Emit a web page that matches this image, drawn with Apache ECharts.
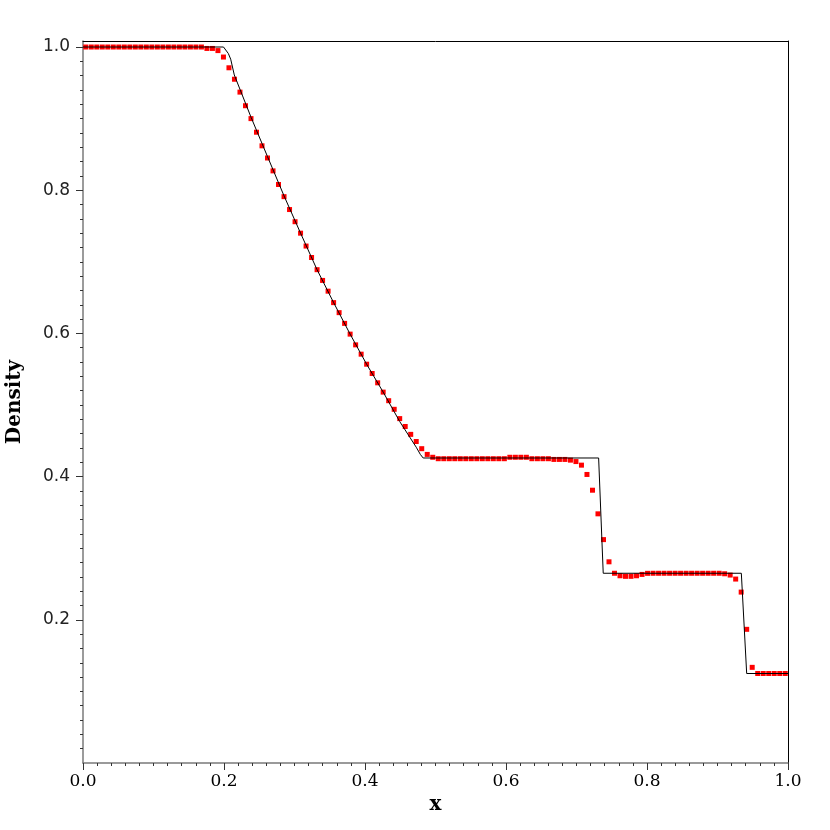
<!DOCTYPE html>
<html>
<head>
<meta charset="utf-8">
<script src="https://cdn.jsdelivr.net/npm/echarts@6/dist/echarts.min.js"></script>
<style>
  html, body { margin: 0; padding: 0; background: #fff; }
  #main { width: 830px; height: 830px; }
</style>
</head>
<body>
<div id="main"></div>
<script>
// cell-centred numerical solution, 128 cells on [0,1]
var nCells = 128;
var cellRho = [
  1, 1, 1, 1, 1, 1, 1, 1, 1, 1,
  1, 1, 1, 1, 1, 1, 1, 1, 1, 1,
  1, 1, 0.998, 0.998, 0.995, 0.986, 0.971, 0.955, 0.937, 0.918,
  0.900, 0.881, 0.862, 0.845, 0.827, 0.808, 0.791, 0.773, 0.756, 0.740,
  0.722, 0.706, 0.689, 0.674, 0.659, 0.643, 0.629, 0.614, 0.599, 0.584,
  0.571, 0.557, 0.544, 0.531, 0.518, 0.506, 0.494, 0.481, 0.470, 0.459,
  0.449, 0.439, 0.431, 0.427, 0.425, 0.425, 0.425, 0.425, 0.425, 0.425,
  0.425, 0.425, 0.425, 0.425, 0.425, 0.425, 0.425, 0.427, 0.427, 0.427,
  0.427, 0.425, 0.425, 0.425, 0.425, 0.424, 0.424, 0.424, 0.423, 0.421,
  0.416, 0.403, 0.381, 0.348, 0.312, 0.281, 0.265, 0.2615, 0.2607, 0.2607,
  0.2615, 0.2634, 0.2649, 0.265, 0.265, 0.265, 0.265, 0.265, 0.265, 0.265,
  0.265, 0.265, 0.265, 0.265, 0.265, 0.265, 0.2643, 0.2625, 0.2569, 0.2387,
  0.1867, 0.1336, 0.125, 0.125, 0.125, 0.125, 0.125, 0.125
];

// exact solution
var exactX = [0, 0.1993, 0.2061, 0.2095, 0.2146, 0.2383, 0.2617, 0.2852, 0.3086, 0.3320,
  0.3555, 0.3789, 0.4023, 0.4258, 0.4492, 0.4727, 0.4785, 0.4825, 0.7314, 0.7379,
  0.9338, 0.9414, 1.0];
var exactRho = [1.0, 1.0, 0.991, 0.983, 0.961, 0.902, 0.847, 0.792, 0.740, 0.689,
  0.643, 0.599, 0.557, 0.518, 0.477, 0.441, 0.431, 0.426, 0.426, 0.265,
  0.265, 0.125, 0.125];

var yTicks = [0.2, 0.4, 0.6, 0.8, 1.0];

var cellData = cellRho.map(function (r, i) { return [(i + 0.5) / nCells, r]; });
var exactData = exactX.map(function (x, i) { return [x, exactRho[i]]; });

var myChart = echarts.init(document.getElementById('main'));

var option = {
    animation: false,
    grid: { left: 83, right: 42, top: 41, bottom: 67, containLabel: false, outerBoundsMode: 'none' },
    xAxis: [{
        type: 'value',
        min: 0, max: 1, interval: 0.2,
        name: 'x',
        nameLocation: 'middle',
        nameGap: 32,
        nameMoveOverlap: false,
        nameTextStyle: { fontFamily: 'DejaVu Serif', fontWeight: 'bold', fontSize: 20, color: '#000' },
        axisLine: { onZero: false, lineStyle: { color: '#7a7a7a', width: 1.5 } },
        axisTick: { show: true, length: 7, lineStyle: { color: '#333' } },
        minorTick: { show: true, splitNumber: 10, length: 3, lineStyle: { color: '#333' } },
        axisLabel: {
            margin: 10, fontFamily: 'DejaVu Serif', fontSize: 17, color: '#000',
            formatter: function (v) { return v.toFixed(1); }
        },
        splitLine: { show: false }
    }, {
        type: 'value', position: 'top', min: 0, max: 1,
        axisLine: { show: true, onZero: false, lineStyle: { color: '#000', width: 1 } },
        axisTick: { show: false }, axisLabel: { show: false }, splitLine: { show: false }
    }],
    yAxis: [{
        type: 'value',
        min: 0, max: 1.0084, interval: 0.2,
        name: 'Density',
        nameLocation: 'middle',
        nameGap: 58,
        nameRotate: 90,
        nameMoveOverlap: false,
        nameTextStyle: { fontFamily: 'DejaVu Serif', fontWeight: 'bold', fontSize: 20, color: '#000' },
        axisLine: { show: true, onZero: false, lineStyle: { color: '#7a7a7a', width: 1.5 } },
        axisTick: { show: true, length: 7, customValues: yTicks, lineStyle: { color: '#333' } },
        minorTick: { show: true, splitNumber: 10, length: 3, lineStyle: { color: '#333' } },
        axisLabel: {
            margin: 13, fontFamily: 'DejaVu Sans', fontSize: 17, color: '#222',
            customValues: yTicks,
            formatter: function (v) { return v.toFixed(1); }
        },
        splitLine: { show: false }
    }, {
        type: 'value', position: 'right', min: 0, max: 1.0084,
        axisLine: { show: true, onZero: false, lineStyle: { color: '#000', width: 1 } },
        axisTick: { show: false }, axisLabel: { show: false }, splitLine: { show: false }
    }],
    series: [{
        name: 'numerical',
        type: 'scatter',
        symbol: 'rect',
        symbolSize: 5,
        itemStyle: { color: '#ff0000', opacity: 1 },
        data: cellData,
        z: 2
    }, {
        name: 'exact',
        type: 'line',
        showSymbol: false,
        lineStyle: { color: '#000', width: 1 },
        data: exactData,
        z: 3
    }]
};

myChart.setOption(option);
</script>
</body>
</html>
